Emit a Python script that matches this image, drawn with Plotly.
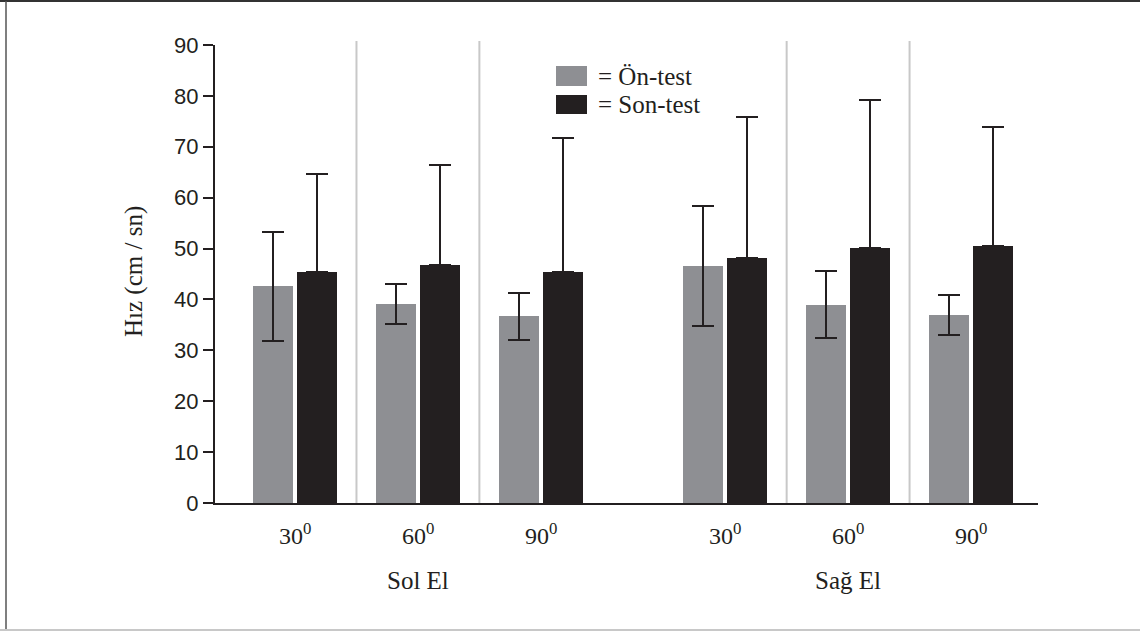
import plotly.graph_objects as go

# ---- data ----
categories = ["30", "60", "90", "30", "60", "90"]
positions = [0, 1, 2, 3.5, 4.5, 5.5]
hands = ["Sol El", "Sağ El"]
hand_positions = [1, 4.5]
on_test = [42.6, 39.1, 36.7, 46.6, 39.0, 36.9]
on_sd = [10.7, 3.9, 4.6, 11.8, 6.6, 3.9]
son_test = [45.4, 46.7, 45.3, 48.2, 50.2, 50.6]
son_sd = [19.2, 19.7, 26.5, 27.7, 28.9, 23.3]
separators = [0.5, 1.5, 4.0, 5.0]
y_ticks = [0, 10, 20, 30, 40, 50, 60, 70, 80, 90]

GRAY = "#8e8f93"
BLACK = "#231f20"
SERIF = "Liberation Serif, Times New Roman, serif"
SANS = "Liberation Sans, Arial, sans-serif"

W, H = 1140, 631
L, R, T, B = 215, 102, 45, 128
PW, PH = W - L - R, H - T - B


def px(X):
    return (X - L) / PW


def py(Y):
    return (H - B - Y) / PH


fig = go.Figure()

fig.add_trace(go.Bar(
    x=positions, y=on_test, name="Ön-test",
    width=0.325, offset=-0.341,
    marker=dict(color=GRAY, line=dict(width=0)),
    error_y=dict(type="data", array=on_sd, visible=True,
                 color=BLACK, thickness=2, width=11),
))
fig.add_trace(go.Bar(
    x=positions, y=son_test, name="Son-test",
    width=0.325, offset=0.016,
    marker=dict(color=BLACK, line=dict(width=0)),
    error_y=dict(type="data", symmetric=False, array=son_sd,
                 arrayminus=[0] * len(son_sd), visible=True,
                 color=BLACK, thickness=2, width=11),
))

# separators
for s in separators:
    fig.add_shape(type="line", xref="x", yref="paper", x0=s, x1=s, y0=0, y1=py(41),
                  line=dict(color="#c8c8c8", width=2), layer="below")

# tick labels with superscript degree
for p, c in zip(positions, categories):
    fig.add_annotation(x=p, xref="x", y=py(534), yref="paper", yanchor="middle",
                       text=f"{c}<sup>0</sup>", showarrow=False,
                       font=dict(family=SERIF, size=24, color=BLACK))
for p, h in zip(hand_positions, hands):
    fig.add_annotation(x=p, xref="x", y=py(580), yref="paper", yanchor="middle",
                       text=h, showarrow=False,
                       font=dict(family=SERIF, size=25, color=BLACK))

# y-axis title
fig.add_annotation(x=px(134), xref="paper", y=py(272), yref="paper",
                   xanchor="center", yanchor="middle", textangle=-90,
                   text="Hız (cm / sn)", showarrow=False,
                   font=dict(family=SERIF, size=25, color=BLACK))

# custom legend
fig.add_shape(type="rect", xref="paper", yref="paper",
              x0=px(556), x1=px(587), y0=py(86), y1=py(66),
              fillcolor=GRAY, line=dict(width=0))
fig.add_shape(type="rect", xref="paper", yref="paper",
              x0=px(556), x1=px(587), y0=py(114), y1=py(95),
              fillcolor=BLACK, line=dict(width=0))
fig.add_annotation(xref="paper", yref="paper", x=px(596), y=py(76),
                   xanchor="left", yanchor="middle", text="= Ön-test", showarrow=False,
                   font=dict(family=SERIF, size=25, color=BLACK))
fig.add_annotation(xref="paper", yref="paper", x=px(596), y=py(104.5),
                   xanchor="left", yanchor="middle", text="= Son-test", showarrow=False,
                   font=dict(family=SERIF, size=25, color=BLACK))

# figure border
fig.add_shape(type="line", xref="paper", yref="paper", x0=px(0), x1=px(W),
              y0=py(1), y1=py(1), line=dict(color="#333333", width=2))
fig.add_shape(type="line", xref="paper", yref="paper", x0=px(6), x1=px(6),
              y0=py(630), y1=py(1), line=dict(color="#555555", width=1.5))
fig.add_shape(type="line", xref="paper", yref="paper", x0=px(0), x1=px(W),
              y0=py(630), y1=py(630), line=dict(color="#c8c8c8", width=2))

fig.update_layout(
    width=W, height=H,
    margin=dict(l=L, r=R, t=T, b=B),
    paper_bgcolor="white", plot_bgcolor="white",
    showlegend=False,
    bargap=0,
    xaxis=dict(range=[-0.651, 6.045], showgrid=False, zeroline=False,
               showticklabels=False, ticks="", showline=True,
               linecolor=BLACK, linewidth=2),
    yaxis=dict(range=[0, 90], tickvals=y_ticks, showgrid=False, zeroline=False,
               showline=True, linecolor=BLACK, linewidth=2,
               ticks="outside", ticklen=10, tickwidth=2, tickcolor=BLACK,
               tickfont=dict(family=SANS, size=22, color=BLACK)),
)

fig.write_html(
    "out.html",
    config={"displayModeBar": False},
    post_script="document.body.style.margin='0';document.body.style.padding='0';"
                "document.body.style.overflow='hidden';",
)
